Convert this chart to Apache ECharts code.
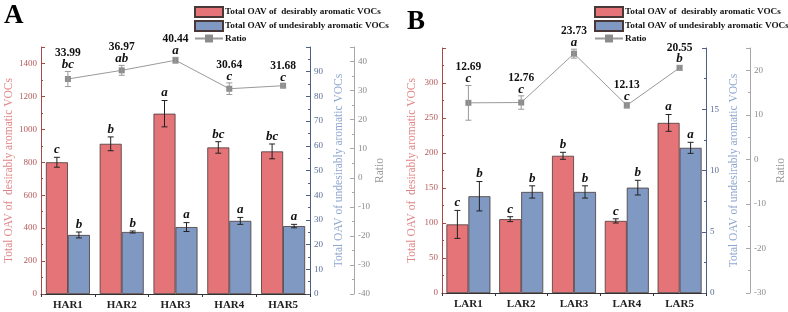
<!DOCTYPE html>
<html>
<head>
<meta charset="utf-8">
<script src="https://cdn.jsdelivr.net/npm/echarts@6/dist/echarts.min.js"></script>
<style>
  html, body { margin: 0; padding: 0; background: #fff; }
  #main { width: 788px; height: 312px; }
</style>
</head>
<body>
<div id="main"></div>
<script>
// panel A data
var catA = ['HAR1', 'HAR2', 'HAR3', 'HAR4', 'HAR5'];
var desA = [800, 912, 1095, 890, 866];
var desErrA = [30, 42, 80, 35, 45];
var desLetA = ['c', 'b', 'a', 'bc', 'bc'];
var undA = [23.9, 25.1, 27.1, 29.6, 27.5];
var undErrA = [1.2, 0.4, 1.8, 1.4, 0.7];
var undLetA = ['b', 'b', 'a', 'a', 'a'];
var ratioA = [33.99, 36.97, 40.44, 30.64, 31.68];
var ratioErrA = [2.6, 1.7, 1.0, 2.0, 0.5];
var ratioLetA = ['bc', 'ab', 'a', 'c', 'c'];

// panel B data
var catB = ['LAR1', 'LAR2', 'LAR3', 'LAR4', 'LAR5'];
var desB = [98, 105.5, 196, 103, 243];
var desErrB = [20, 3.5, 5, 3, 12];
var desLetB = ['c', 'c', 'b', 'c', 'a'];
var undB = [7.9, 8.25, 8.25, 8.6, 11.85];
var undErrB = [1.2, 0.5, 0.5, 0.6, 0.45];
var undLetB = ['b', 'b', 'b', 'b', 'a'];
var ratioB = [12.69, 12.76, 23.73, 12.13, 20.55];
var ratioErrB = [3.9, 1.5, 1.0, 0.6, 0.5];
var ratioLetB = ['c', 'c', 'a', 'c', 'b'];

var nameDes = 'Total OAV of  desirably aromatic VOCs';
var nameUnd = 'Total OAV of undesirably aromatic VOCs';
var nameRatio = 'Ratio';

var serif = '"Liberation Serif", "DejaVu Serif", serif';
var redFill = '#e47477', blueFill = '#7f99c2', edge = '#4a3838';
var barW = 22;

function hideTop(top) {
    return function (v) { return v === top ? '' : v; };
}

function yAx(gi, pos, min, max, step, lineCol, labCol, name, nameCol, gap, offset) {
    return {
        type: 'value', gridIndex: gi, position: pos, offset: offset || 0,
        min: min, max: max, interval: step,
        name: name, nameLocation: 'middle', nameRotate: 90, nameGap: gap,
        nameTextStyle: { fontFamily: serif, fontSize: 11.5, color: nameCol },
        axisLine: { show: true, lineStyle: { color: lineCol, width: 1 } },
        axisTick: { show: true, inside: true, length: 4, lineStyle: { color: lineCol } },
        minorTick: { show: true, splitNumber: 2, length: 2, lineStyle: { color: lineCol } },
        axisLabel: { fontFamily: serif, fontSize: 9, color: labCol, margin: 4, formatter: hideTop(max) },
        splitLine: { show: false }
    };
}

function xAx(gi, cats) {
    return {
        type: 'category', gridIndex: gi, data: cats,
        axisLine: { lineStyle: { color: '#333' } },
        axisTick: { show: true, length: 3, lineStyle: { color: '#333' } },
        axisLabel: { fontFamily: serif, fontWeight: 'bold', fontSize: 11, color: '#222', margin: 6 }
    };
}

// error bars + significance letters, drawn through the axis scales
function errSeries(xi, yi, vals, errs, lets, shift, col, ratio) {
    var rows = vals.map(function (v, i) { return [i, v, errs[i]]; });
    return {
        type: 'custom', xAxisIndex: xi, yAxisIndex: yi, z: 5, silent: true,
        data: rows,
        renderItem: function (params, api) {
            var i = api.value(0), v = api.value(1), e = api.value(2);
            var hi = api.coord([i, v + e]);
            var lo = api.coord([i, v - e]);
            var x = hi[0] + shift;
            var cap = 3;
            var kids = [
                { type: 'line', shape: { x1: x, y1: hi[1], x2: x, y2: lo[1] }, style: { stroke: col, lineWidth: 1 } },
                { type: 'line', shape: { x1: x - cap, y1: hi[1], x2: x + cap, y2: hi[1] }, style: { stroke: col, lineWidth: 1 } },
                { type: 'line', shape: { x1: x - cap, y1: lo[1], x2: x + cap, y2: lo[1] }, style: { stroke: col, lineWidth: 1 } },
                { type: 'text', x: x, y: hi[1] - (ratio ? 0 : 1), style: {
                    text: lets[params.dataIndex], textAlign: 'center', textVerticalAlign: 'bottom',
                    fontFamily: serif, fontStyle: 'italic', fontWeight: 'bold', fontSize: 13, fill: '#111' } }
            ];
            if (ratio) {
                kids.push({ type: 'text', x: x, y: hi[1] - 12, style: {
                    text: vals[params.dataIndex].toFixed(2), textAlign: 'center', textVerticalAlign: 'bottom',
                    fontFamily: serif, fontWeight: 'bold', fontSize: 11.5, fill: '#111' } });
            }
            return { type: 'group', children: kids };
        }
    };
}

function barSeries(name, xi, yi, vals, fill) {
    return {
        name: name, type: 'bar', xAxisIndex: xi, yAxisIndex: yi, data: vals,
        barWidth: barW, barGap: '0%',
        itemStyle: { color: fill, borderColor: edge, borderWidth: 0.8 }
    };
}

function lineSeries(xi, yi, vals) {
    return {
        name: nameRatio, type: 'line', xAxisIndex: xi, yAxisIndex: yi, data: vals,
        symbol: 'rect', symbolSize: 6, z: 4,
        lineStyle: { color: '#9a9a9a', width: 1 },
        itemStyle: { color: '#8c8c8c' }
    };
}

function legendAt(x) {
    return {
        left: x, top: 1, orient: 'vertical', itemGap: 2,
        itemWidth: 28, itemHeight: 10,
        data: [
            { name: nameDes, icon: 'rect' },
            { name: nameUnd, icon: 'rect' },
            { name: nameRatio }
        ],
        textStyle: { fontFamily: serif, fontWeight: 'bold', fontSize: 9.2, color: '#111', padding: [0, 0, 0, -3] }
    };
}

var chart = echarts.init(document.getElementById('main'));
chart.setOption({
    animation: false,
    backgroundColor: '#fff',
    grid: [
        { left: 41, right: 478, top: 47, bottom: 18 },
        { left: 442, right: 78, top: 48, bottom: 19 }
    ],
    legend: [legendAt(189), legendAt(589)],
    graphic: [
        { type: 'text', left: 4, top: 3, style: { text: 'A', fontFamily: serif, fontWeight: 'bold', fontSize: 27, fill: '#000' } },
        { type: 'text', left: 407, top: 9, style: { text: 'B', fontFamily: serif, fontWeight: 'bold', fontSize: 27, fill: '#000' } }
    ],
    xAxis: [xAx(0, catA), xAx(1, catB)],
    yAxis: [
        yAx(0, 'left', 0, 1500, 200, '#a84a4a', '#b35a5a', nameDes, '#e08585', 23),
        yAx(0, 'right', 0, 100, 10, '#4d5f85', '#5a6d95', nameUnd, '#8ea6cf', 23),
        yAx(0, 'right', -40, 45, 10, '#a8a8a8', '#8a8a8a', nameRatio, '#999', 18, 44),
        yAx(1, 'left', 0, 350, 50, '#a84a4a', '#b35a5a', nameDes, '#e08585', 24),
        yAx(1, 'right', 0, 20, 5, '#4d5f85', '#5a6d95', nameUnd, '#8ea6cf', 22),
        yAx(1, 'right', -30, 25, 10, '#a8a8a8', '#8a8a8a', nameRatio, '#999', 25, 44)
    ],
    series: [
        barSeries(nameDes, 0, 0, desA, redFill),
        barSeries(nameUnd, 0, 1, undA, blueFill),
        lineSeries(0, 2, ratioA),
        errSeries(0, 0, desA, desErrA, desLetA, -barW / 2, '#222', false),
        errSeries(0, 1, undA, undErrA, undLetA, barW / 2, '#222', false),
        errSeries(0, 2, ratioA, ratioErrA, ratioLetA, 0, '#999', true),

        barSeries(nameDes, 1, 3, desB, redFill),
        barSeries(nameUnd, 1, 4, undB, blueFill),
        lineSeries(1, 5, ratioB),
        errSeries(1, 3, desB, desErrB, desLetB, -barW / 2, '#222', false),
        errSeries(1, 4, undB, undErrB, undLetB, barW / 2, '#222', false),
        errSeries(1, 5, ratioB, ratioErrB, ratioLetB, 0, '#999', true)
    ]
});
</script>
</body>
</html>
